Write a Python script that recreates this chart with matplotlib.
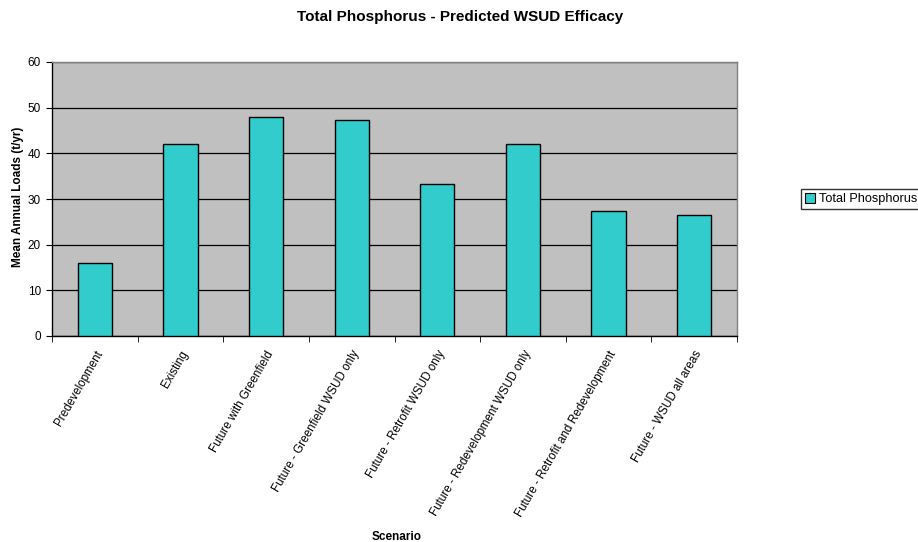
import matplotlib
matplotlib.use('Agg')
import matplotlib.pyplot as plt
from matplotlib.patches import Patch

scenarios = [
    'Predevelopment',
    'Existing',
    'Future with Greenfield',
    'Future - Greenfield WSUD only',
    'Future - Retrofit WSUD only',
    'Future - Redevelopment WSUD only',
    'Future - Retrofit and Redevelopment',
    'Future - WSUD all areas',
]
loads = [16.0, 42.1, 48.0, 47.2, 33.2, 42.1, 27.4, 26.5]
yticks = [0, 10, 20, 30, 40, 50, 60]

plt.rcParams['font.family'] = ['Liberation Sans', 'DejaVu Sans']

W, H = 918, 542
fig = plt.figure(figsize=(W / 100, H / 100), dpi=100)
ax = fig.add_axes([52 / W, 1 - 336 / H, (737 - 52) / W, (336 - 62) / H])

x = list(range(len(scenarios)))
ax.set_facecolor('#C0C0C0')
ax.bar(x, loads, width=0.4, color='#33CCCC', edgecolor='black', linewidth=1, zorder=3)

ax.set_xlim(-0.5, len(scenarios) - 0.5)
ax.set_ylim(0, 60)
ax.set_yticks(yticks)
ax.set_yticklabels([str(v) for v in yticks], fontsize=8.5)
ax.yaxis.grid(True, color='black', linewidth=0.9, zorder=1)

# category labels at bar centres, tick marks on category boundaries
ax.set_xticks(x)
ax.set_xticklabels(scenarios, fontsize=8.4, rotation=60, ha='right', va='top',
                   rotation_mode='anchor')
ax.tick_params(axis='x', length=0, pad=9)
ax.set_xticks([i + 0.5 for i in range(-1, len(scenarios))], minor=True)
ax.tick_params(axis='x', which='minor', length=4, direction='out', color='black')
ax.tick_params(axis='y', length=4, direction='out', color='black', pad=4)

for side in ['top', 'right']:
    ax.spines[side].set_color('#808080')
    ax.spines[side].set_linewidth(1)
for side in ['left', 'bottom']:
    ax.spines[side].set_color('black')
    ax.spines[side].set_linewidth(1)

fig.text(18 / W, 1 - 197 / H, 'Mean Annual Loads (t/yr)', fontsize=8.5,
         fontweight='bold', rotation=90, ha='center', va='center')
fig.text(397 / W, 1 - 537 / H, 'Scenario', fontsize=8.5, fontweight='bold',
         ha='center', va='center')
fig.text(460 / W, 1 - 17 / H, 'Total Phosphorus - Predicted WSUD Efficacy',
         fontsize=11, fontweight='bold', ha='center', va='center')

handle = Patch(facecolor='#33CCCC', edgecolor='black', linewidth=0.8)
leg = fig.legend([handle], ['Total Phosphorus'], loc='center left',
                 bbox_to_anchor=(801 / W, 1 - 199 / H), fontsize=9.2,
                 frameon=True, fancybox=False, handlelength=0.8, handleheight=0.8,
                 handletextpad=0.3, borderpad=0.3, borderaxespad=0)
leg.get_frame().set_edgecolor('black')
leg.get_frame().set_linewidth(1)

fig.savefig('out.png', dpi=100)
